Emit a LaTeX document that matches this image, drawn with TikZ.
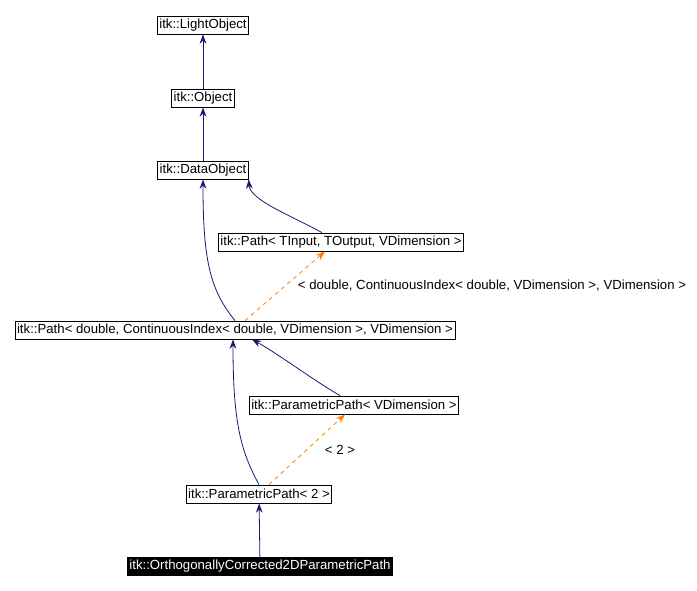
\documentclass[tikz,border=0pt]{standalone}
\usepackage{fontspec}
\setmainfont{Liberation Sans}
\usetikzlibrary{positioning, arrows.meta, calc}

\begin{document}
\begin{tikzpicture}[x=0.75pt, y=-0.75pt, thick,
    main/.style = {draw, line width=0.6pt, inner sep=1.5pt, minimum height=13.5pt, font=\fontsize{9.9}{10}\selectfont},
    inh/.style = {draw={rgb,255:red,25;green,25;blue,112}, line width=0.6pt, -{Stealth[length=7pt,width=5pt]}},
    tpl/.style = {draw=orange, line width=0.6pt, dashed, -{Stealth[length=7pt,width=5pt]}},
    lbl/.style = {font=\fontsize{9.9}{10}\selectfont}]
    \useasboundingbox (0,0) rectangle (697,590);
            \node[main] (lo) at (203,25) {itk::LightObject};
            \node[main] (ob) at (203,98) {itk::Object};
            \node[main] (do) at (203,170) {itk::DataObject};
            \node[main] (pt) at (341,242) {itk::Path< TInput, TOutput, VDimension >};
            \node[main] (pd) at (235,330) {itk::Path< double, ContinuousIndex< double, VDimension >, VDimension >};
            \node[main] (ppv) at (354,405) {itk::ParametricPath< VDimension >};
            \node[main] (pp2) at (259,494) {itk::ParametricPath< 2 >};
            \node[main, fill=black, text=white] (oc) at (260,566) {itk::OrthogonallyCorrected2DParametricPath};
            \node[lbl] (l1) at (492,286) {< double, ContinuousIndex< double, VDimension >, VDimension >};
            \node[lbl] (l2) at (340,450) {< 2 >};
            \draw[inh] (pt.north -| 322,0) .. controls (290,215) and (250,200) .. (do.south east);
            \draw[inh] (ob) -- (lo);
            \draw[inh] (do) -- (ob);
            \draw[inh] (pd.north) .. controls (210,290) and (203,260) .. (do.south);
            \draw[tpl] ($(pd.north)+(10,0)$) -- ($(pt.south)+(-16,0)$);
            \draw[inh] ($(ppv.north)+(-14,0)$) .. controls (310,378) and (280,355) .. ($(pd.south)+(17,0)$);
            \draw[inh] (pp2.north) .. controls (240,450) and (233,420) .. ($(pd.south)+(-2,0)$);
            \draw[tpl] ($(pp2.north)+(10,0)$) -- ($(ppv.south)+(-9,0)$);
            \draw[inh] (oc) -- (pp2);
\end{tikzpicture}
\end{document}
